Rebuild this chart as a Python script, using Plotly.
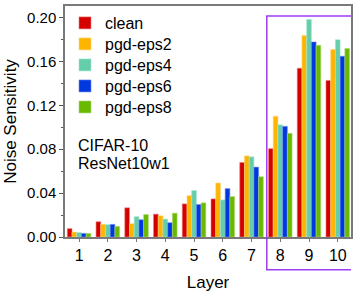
import plotly.graph_objects as go

layers = [1, 2, 3, 4, 5, 6, 7, 8, 9, 10]
series_names = ["clean", "pgd-eps2", "pgd-eps4", "pgd-eps6", "pgd-eps8"]
clean = [0.0076, 0.0139, 0.0266, 0.0208, 0.0302, 0.0347, 0.0679, 0.0805, 0.1538, 0.1427]
eps2 = [0.0045, 0.0115, 0.0121, 0.0193, 0.0377, 0.0492, 0.0739, 0.1100, 0.1837, 0.1708]
eps4 = [0.0040, 0.0112, 0.0185, 0.0163, 0.0423, 0.0338, 0.0730, 0.1022, 0.1982, 0.1798]
eps6 = [0.0033, 0.0115, 0.0157, 0.0130, 0.0296, 0.0441, 0.0637, 0.1008, 0.1777, 0.1647]
eps8 = [0.0033, 0.0097, 0.0205, 0.0217, 0.0311, 0.0368, 0.0549, 0.0945, 0.1747, 0.1717]
values = [clean, eps2, eps4, eps6, eps8]
colors = ["#d40000", "#ffb400", "#66cdaa", "#0038e0", "#6ab800"]
edge = ["rgba(240,120,120,1)", "rgba(255,215,120,1)", "rgba(160,230,205,1)", "rgba(110,140,240,1)", "rgba(170,220,120,1)"]
y_ticks = [0.00, 0.04, 0.08, 0.12, 0.16, 0.20]

FONT = "Liberation Sans, Arial, sans-serif"
legend_ids = ["legend", "legend2", "legend3", "legend4", "legend5"]

fig = go.Figure()
for name, vals, c, e, lg in zip(series_names, values, colors, edge, legend_ids):
    fig.add_trace(go.Bar(x=layers, y=vals, name=name, legend=lg,
                         marker=dict(color=c, line=dict(color=e, width=0.6))))

fig.update_layout(
    width=357, height=293,
    margin=dict(l=65, r=5, t=4, b=56),
    paper_bgcolor="white", plot_bgcolor="white",
    barmode="group", bargap=0.18, bargroupgap=0,
    font=dict(family=FONT, size=15, color="black"),
    showlegend=True,
    xaxis=dict(range=[0.51, 10.46], tickmode="array", tickvals=layers,
               ticktext=[str(v) for v in layers],
               showgrid=False, zeroline=False,
               showline=True, linecolor="#7a7a7a", linewidth=1.5, mirror=True,
               ticks="outside", ticklen=3, tickcolor="#7a7a7a", tickwidth=1,
               tickfont=dict(size=16),
               title=dict(text="Layer", font=dict(size=17), standoff=13)),
    yaxis=dict(range=[0, 0.2105], tickmode="array", tickvals=y_ticks,
               ticktext=["%.2f" % v for v in y_ticks],
               showgrid=False, zeroline=False,
               showline=True, linecolor="#7a7a7a", linewidth=1.5, mirror=True,
               ticks="outside", ticklen=4, tickcolor="#555", tickwidth=1,
               minor=dict(dtick=0.02, ticks="outside", ticklen=2, tickcolor="#555", showgrid=False),
               tickfont=dict(size=15),
               title=dict(text="Noise Sensitivity", font=dict(size=17), standoff=6)),
)

# one legend box per series so that the item spacing matches the reference
item_centers_px = [24, 45.2, 66.4, 87.6, 108.8]
plot_bottom_px, plot_h_px = 237, 233
for lg, c in zip(legend_ids, item_centers_px):
    fig.update_layout({lg: dict(x=0.0, y=(plot_bottom_px - (c - 20)) / plot_h_px,
                                xanchor="left", yanchor="top",
                                bgcolor="rgba(0,0,0,0)", font=dict(size=16, family=FONT),
                                itemwidth=30)})

fig.add_annotation(text="CIFAR-10", xref="paper", yref="paper", x=0.04, y=0.395,
                   xanchor="left", yanchor="middle", showarrow=False, font=dict(size=16))
fig.add_annotation(text="ResNet10w1", xref="paper", yref="paper", x=0.04, y=0.318,
                   xanchor="left", yanchor="middle", showarrow=False, font=dict(size=16))

fig.add_shape(type="rect", xref="x", yref="paper", x0=7.53, x1=10.5, y0=-0.142, y1=0.957,
              line=dict(color="#9d3cf5", width=1.5), fillcolor="rgba(0,0,0,0)", layer="above")

fig.write_html("out.html", config={"displayModeBar": False},
               post_script="document.body.style.margin='0';document.body.style.padding='0';")
